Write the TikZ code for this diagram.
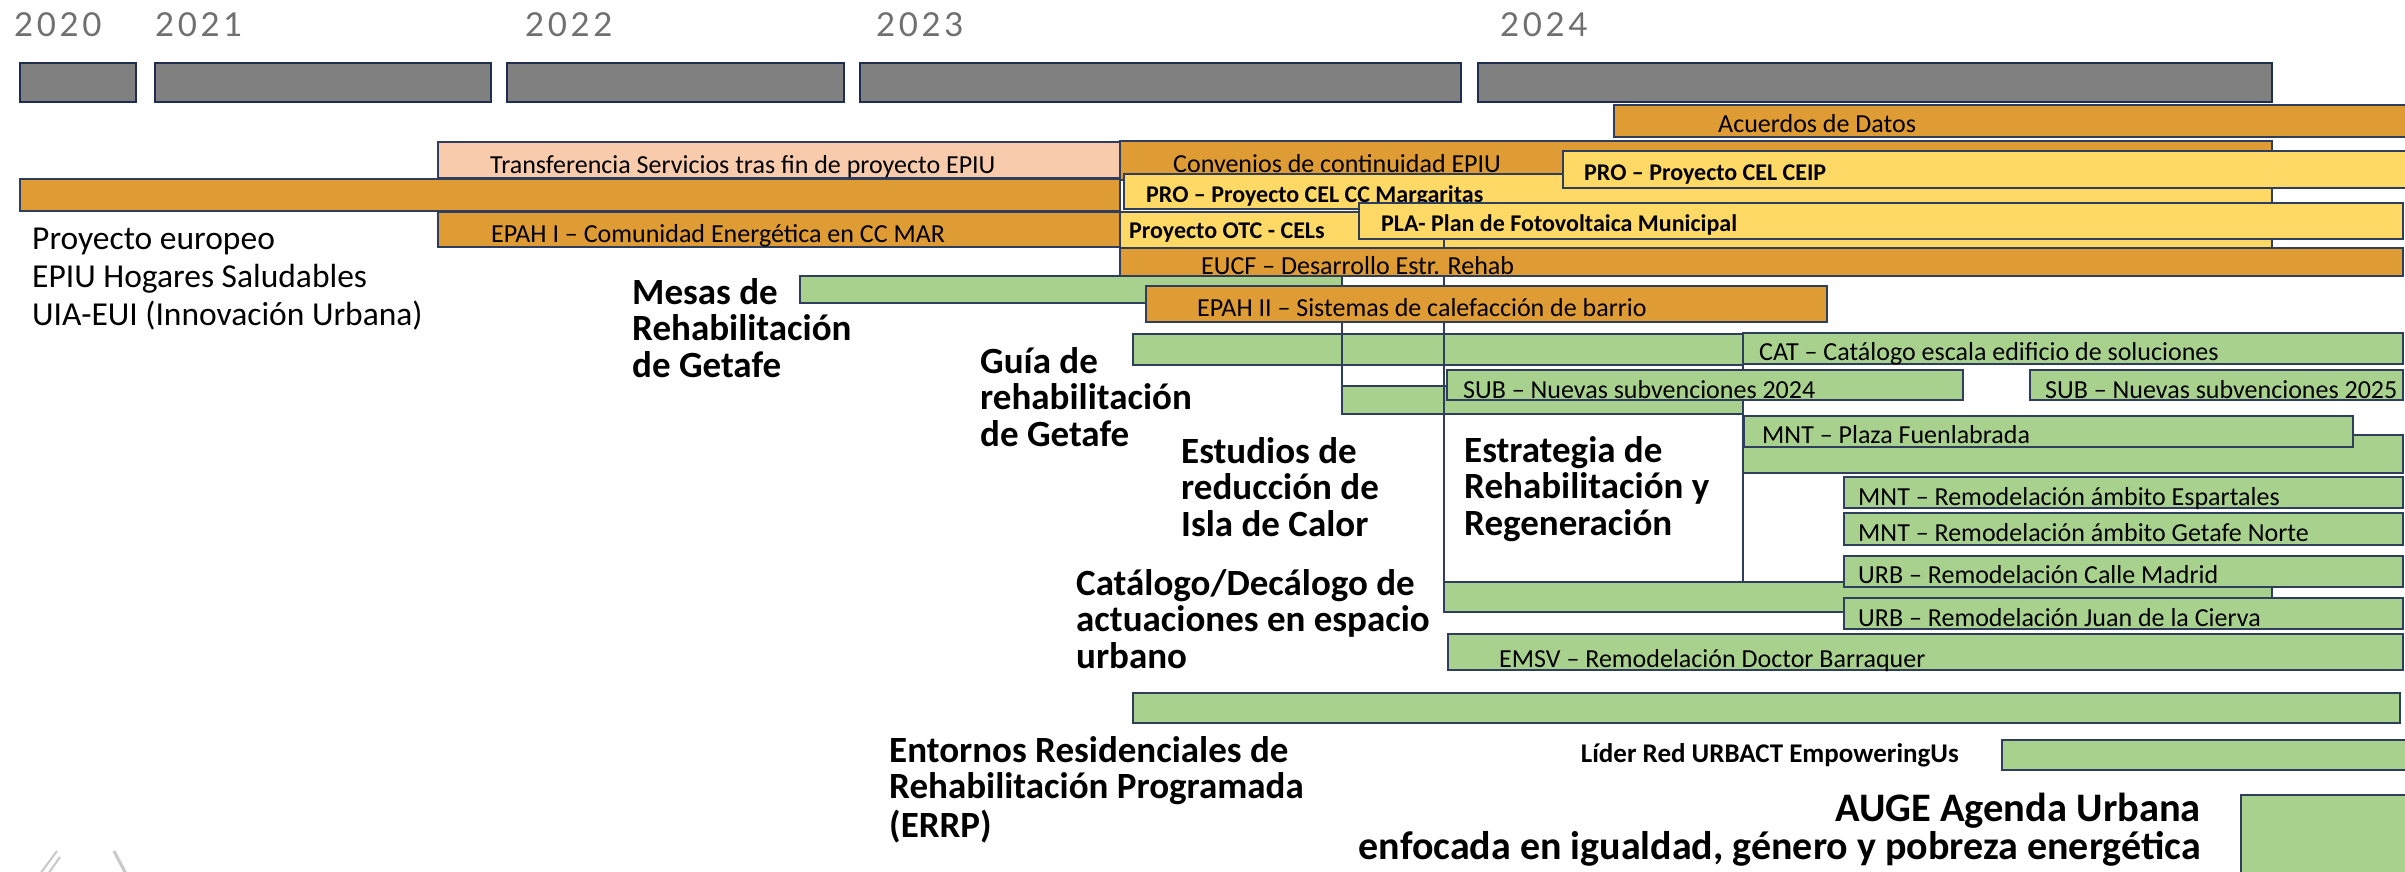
\documentclass[tikz,border=0pt]{standalone}
\usepackage{fontspec}
\setmainfont{Carlito}
\newfontfamily\yearfont[LetterSpace=11]{Lato}
\definecolor{barorange}{RGB}{223,155,52}
\definecolor{barpeach}{RGB}{248,203,173}
\definecolor{baryellow}{RGB}{255,217,102}
\definecolor{bargreen}{RGB}{169,209,142}
\definecolor{bargray}{RGB}{128,128,128}
\definecolor{edgenavy}{RGB}{47,62,92}
\definecolor{graynavy}{RGB}{31,45,78}
\definecolor{yeargray}{RGB}{112,112,112}
\definecolor{logogray}{RGB}{200,200,200}
\tikzset{
  yearbar/.style={fill=bargray, draw=graynavy, line width=2.5pt},
  orangebar/.style={fill=barorange, draw=edgenavy, line width=1.5pt},
  peachbar/.style={fill=barpeach, draw=edgenavy, line width=1.5pt},
  yellowbar/.style={fill=baryellow, draw=edgenavy, line width=1.5pt},
  greenbar/.style={fill=bargreen, draw=edgenavy, line width=1.5pt},
  vline/.style={draw=edgenavy, line width=1.2pt},
  barlabel/.style={anchor=base west, inner sep=0pt, font=\fontsize{26}{30}\selectfont},
  boldbarlabel/.style={anchor=base west, inner sep=0pt, font=\fontsize{24}{28}\selectfont\bfseries},
  bigtitle/.style={anchor=base west, inner sep=0pt, font=\fontsize{37}{36}\selectfont\bfseries},
  yearlabel/.style={anchor=base west, inner sep=0pt, text=yeargray, font=\yearfont\fontsize{33}{33}\selectfont},
  logostroke/.style={draw=logogray, line width=2pt},
}
\begin{document}
\begin{tikzpicture}[x=1pt,y=-1pt]
\useasboundingbox (0,0) rectangle (2405,872);
\clip (0,0) rectangle (2405,872);
\fill[white] (0,0) rectangle (2405,872);

% years
\node[yearlabel] (y2020) at (14,37) {2020};
\node[yearlabel] (y2021) at (155,37) {2021};
\node[yearlabel] (y2022) at (525,37) {2022};
\node[yearlabel] (y2023) at (876,37) {2023};
\node[yearlabel] (y2024) at (1500,37) {2024};

% year bars
\draw[yearbar] (20,63) rectangle (136,102);
\draw[yearbar] (155,63) rectangle (491,102);
\draw[yearbar] (507,63) rectangle (844,102);
\draw[yearbar] (860,63) rectangle (1461,102);
\draw[yearbar] (1478,63) rectangle (2272,102);

% upper bars
\draw[orangebar] (1614,105) rectangle (2415,137);
\node[barlabel] (acuerdos) at (1718,132) {Acuerdos de Datos};
\draw[orangebar] (1120,141) rectangle (2272,180);
\node[barlabel] (convenios) at (1173,172) {Convenios de continuidad EPIU};
\draw[peachbar] (438,142) rectangle (1120,178);
\node[barlabel] (transf) at (490,173) {Transferencia Servicios tras fin de proyecto EPIU};
\draw[orangebar] (20,179) rectangle (1120,211);
\draw[orangebar] (438,212) rectangle (1120,247);
\node[barlabel] (epah1) at (491,242) {EPAH I – Comunidad Energética en CC MAR};
\draw[yellowbar] (1124,174) rectangle (2272,209);
\node[boldbarlabel] (margaritas) at (1146,202) {PRO – Proyecto CEL CC Margaritas};
\draw[yellowbar] (1563,151) rectangle (2415,188);
\node[boldbarlabel] (ceip) at (1584,180) {PRO – Proyecto CEL CEIP};
\draw[yellowbar] (1120,212) rectangle (2272,248);
\node[boldbarlabel] (otc) at (1129,238) {Proyecto OTC - CELs};

% green bars behind lines
\draw[greenbar] (1133,334) rectangle (1743,365);
\draw[greenbar] (1342,386) rectangle (1743,414);

% frame lines
\draw[vline] (1342,303) -- (1342,386);
\draw[vline] (1444,239) -- (1444,582);
\draw[vline] (1743,364) -- (1743,582);

\draw[yellowbar] (1359,203) rectangle (2403,239);
\node[boldbarlabel] (pla) at (1381,231) {PLA- Plan de Fotovoltaica Municipal};
\draw[orangebar] (1120,248) rectangle (2403,276);
\node[barlabel] (eucf) at (1201,274) {EUCF – Desarrollo Estr. Rehab};
\draw[greenbar] (800,276) rectangle (1342,303);
\draw[orangebar] (1146,286) rectangle (1827,322);
\node[barlabel] (epah2) at (1197,316) {EPAH II – Sistemas de calefacción de barrio};

% lower bars
\draw[greenbar] (1743,333) rectangle (2403,364);
\node[barlabel] (cat) at (1759,360) {CAT – Catálogo escala edificio de soluciones};
\draw[greenbar] (1447,370) rectangle (1963,400);
\node[barlabel] (sub24) at (1463,398) {SUB – Nuevas subvenciones 2024};
\draw[greenbar] (2030,370) rectangle (2403,400);
\node[barlabel] (sub25) at (2045,398) {SUB – Nuevas subvenciones 2025};
\draw[greenbar] (1743,435) rectangle (2403,473);
\draw[greenbar] (1744,416) rectangle (2353,447);
\node[barlabel] (plaza) at (1762,443) {MNT – Plaza Fuenlabrada};
\draw[greenbar] (1844,477) rectangle (2403,508);
\node[barlabel] (espart) at (1858,505) {MNT – Remodelación ámbito Espartales};
\draw[greenbar] (1844,513) rectangle (2403,545);
\node[barlabel] (gnorte) at (1858,541) {MNT – Remodelación ámbito Getafe Norte};
\draw[greenbar] (1444,582) rectangle (2272,612);
\draw[greenbar] (1844,556) rectangle (2403,587);
\node[barlabel] (madrid) at (1858,583) {URB – Remodelación Calle Madrid};
\draw[greenbar] (1844,598) rectangle (2403,629);
\node[barlabel] (cierva) at (1858,626) {URB – Remodelación Juan de la Cierva};
\draw[greenbar] (1448,634) rectangle (2403,670);
\node[barlabel] (emsv) at (1499,667) {EMSV – Remodelación Doctor Barraquer};
\draw[greenbar] (1133,693) rectangle (2400,723);
\draw[greenbar] (2002,740) rectangle (2415,770);
\draw[greenbar] (2241,795) rectangle (2415,880);

% titles
\node[anchor=base west, inner sep=0pt, font=\fontsize{33.5}{38}\selectfont] (epiu) at (32,249)
  {\begin{tabular}[t]{@{}l@{}}Proyecto europeo\\EPIU Hogares Saludables\\UIA-EUI (Innovación Urbana)\end{tabular}};
\node[bigtitle] (mesas) at (632,304) {\begin{tabular}[t]{@{}l@{}}Mesas de\\Rehabilitación\\de Getafe\end{tabular}};
\node[bigtitle] (guia) at (980,373) {\begin{tabular}[t]{@{}l@{}}Guía de\\rehabilitación\\de Getafe\end{tabular}};
\node[bigtitle] (estudios) at (1181,463) {\begin{tabular}[t]{@{}l@{}}Estudios de\\reducción de\\Isla de Calor\end{tabular}};
\node[bigtitle] (estrategia) at (1464,462) {\begin{tabular}[t]{@{}l@{}}Estrategia de\\Rehabilitación y\\Regeneración\end{tabular}};
\node[bigtitle] (catalogo) at (1076,595) {\begin{tabular}[t]{@{}l@{}}Catálogo/Decálogo de\\actuaciones en espacio\\urbano\end{tabular}};
\node[bigtitle] (errp) at (889,762) {\begin{tabular}[t]{@{}l@{}}Entornos Residenciales de\\Rehabilitación Programada\\(ERRP)\end{tabular}};
\node[anchor=base east, inner sep=0pt, font=\fontsize{27}{30}\selectfont\bfseries] (urbact) at (1959,762) {Líder Red URBACT EmpoweringUs};
\node[anchor=base east, inner sep=0pt, font=\fontsize{40.5}{42}\selectfont\bfseries] (auge1) at (2201,821) {AUGE Agenda Urbana};
\node[anchor=base east, inner sep=0pt, font=\fontsize{40}{42}\selectfont\bfseries] (auge2) at (2201,859) {enfocada en igualdad, género y pobreza energética};

% faint logo fragments
\draw[logostroke] (40,874) -- (57,851);
\draw[logostroke] (48,874) -- (60,857);
\draw[logostroke, line width=3pt] (114,851) -- (126,874);
\end{tikzpicture}
\end{document}
